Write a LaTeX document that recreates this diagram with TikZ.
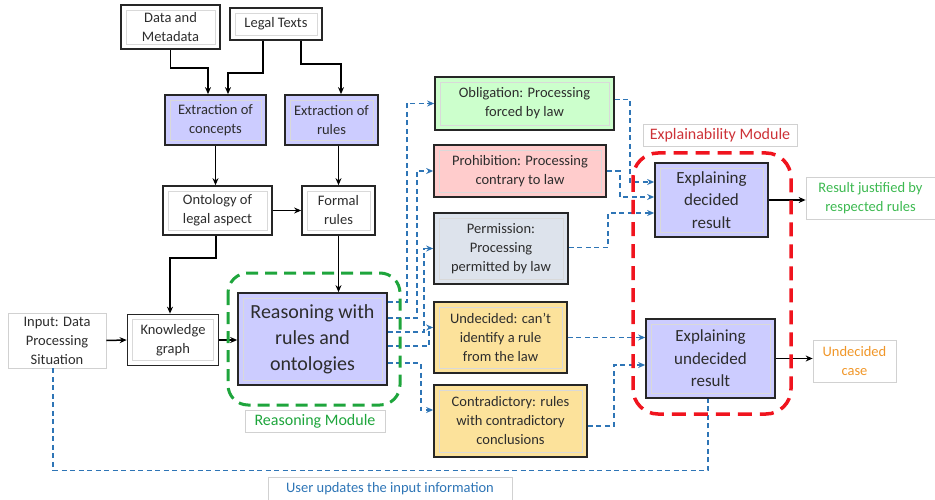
\documentclass[tikz,border=0pt]{standalone}
\usepackage{fontspec}
\setmainfont{Carlito}
\usetikzlibrary{arrows.meta}
\definecolor{lav}{RGB}{204,204,255}
\definecolor{obg}{RGB}{204,255,204}
\definecolor{prr}{RGB}{255,204,204}
\definecolor{peb}{RGB}{221,227,236}
\definecolor{uny}{RGB}{252,226,155}
\definecolor{bl}{RGB}{46,117,182}
\definecolor{gr}{RGB}{30,165,60}
\definecolor{rd}{RGB}{240,20,30}
\definecolor{txt}{RGB}{45,45,45}
\definecolor{gtxt}{RGB}{60,185,80}
\definecolor{otxt}{RGB}{240,150,40}
\definecolor{rtxt}{RGB}{205,50,55}
\newcommand{\fsz}[2]{\fontsize{#1}{#2}\selectfont}
\tikzset{
  box/.style={draw=black!85, line width=1.7pt, align=center, inner sep=0pt, text=txt,
    font=\fsz{14.5}{19},
    path picture={\draw[black!15, line width=0.8pt]
      ([shift={(5pt,-5pt)}]path picture bounding box.north west) rectangle
      ([shift={(-5pt,5pt)}]path picture bounding box.south east);}},
  lbl/.style={draw=black!18, line width=0.7pt, align=center, inner sep=0pt, font=\fsz{14.5}{19}},
  arr/.style={draw=black, line width=1.5pt, -{Stealth[length=7pt,width=6pt]}},
  barr/.style={draw=bl, line width=1.4pt, dash pattern=on 5pt off 3.5pt, -{Stealth[length=7pt,width=6pt]}},
  bdash/.style={draw=bl, line width=1.4pt, dash pattern=on 5pt off 3.5pt},
}
\begin{document}
\begin{tikzpicture}[x=1pt,y=-1pt]
\useasboundingbox (0,0) rectangle (935,500);
% top boxes
\node[box, minimum width=99pt, minimum height=44pt] (dm) at (170.5,27) {Data and\\Metadata};
\node[box, minimum width=92pt, minimum height=32pt] (lt) at (276,24) {Legal Texts};
\node[box, fill=lav, minimum width=101pt, minimum height=50pt] (ec) at (215.5,120) {Extraction of\\concepts};
\node[box, fill=lav, minimum width=93pt, minimum height=50pt] (er) at (331.5,120) {Extraction of\\rules};
\node[box, fill=white, minimum width=109pt, minimum height=49pt] (ont) at (217.5,210.5) {Ontology of\\legal aspect};
\node[box, fill=white, minimum width=73pt, minimum height=49pt] (fr) at (338.5,210.5) {Formal\\rules};
\node[box, fill=white, minimum width=91pt, minimum height=51pt] (kg) at (173,340) {Knowledge\\graph};
\node[lbl, text=txt, minimum width=98pt, minimum height=55pt] (inp) at (57,340.5) {Input: Data\\Processing\\Situation};
\node[box, fill=lav, minimum width=149pt, minimum height=92pt, font=\fsz{20}{26}] (rs) at (312.5,339) {Reasoning with\\rules and\\ontologies};
\node[lbl, text=gr, minimum width=140pt, minimum height=22pt, font=\fsz{16}{19}] (rml) at (315,421) {Reasoning Module};
% classification boxes
\node[box, fill=obg, minimum width=179pt, minimum height=53pt] (ob) at (524.5,103.5) {Obligation: Processing\\forced by law};
\node[box, fill=prr, minimum width=172pt, minimum height=52pt] (pr) at (520,171) {Prohibition: Processing\\contrary to law};
\node[box, fill=peb, minimum width=134pt, minimum height=71pt] (pe) at (501,248.5) {Permission:\\Processing\\permitted by law};
\node[box, fill=uny, minimum width=133pt, minimum height=71pt] (un) at (500.5,337.5) {Undecided: can’t\\identify a rule\\from the law};
\node[box, fill=uny, minimum width=153pt, minimum height=72pt] (co) at (510.5,421) {Contradictory: rules\\with contradictory\\conclusions};
% explainability
\node[lbl, text=rtxt, minimum width=154pt, minimum height=22pt, font=\fsz{16}{19}] (eml) at (720,135) {Explainability Module};
\node[box, fill=lav, minimum width=113pt, minimum height=74pt, font=\fsz{17}{22.5}] (ed) at (711.5,200) {Explaining\\decided\\result};
\node[box, fill=lav, minimum width=129pt, minimum height=79pt, font=\fsz{17}{22.5}] (eu) at (710.5,358.5) {Explaining\\undecided\\result};
\node[lbl, text=gtxt, minimum width=129pt, minimum height=42pt] (rj) at (870.5,198) {Result justified by\\respected rules};
\node[lbl, text=otxt, minimum width=83pt, minimum height=42pt] (uc) at (854.5,361) {Undecided\\case};
\node[lbl, text=bl, minimum width=244pt, minimum height=23pt] (ul) at (390,488.5) {User updates the input information};
% black connectors
\draw[arr] (dm.south) -- ++(0,18) -| ([xshift=-7.5pt]ec.north);
\draw[arr] ([xshift=-13pt]lt.south) -- ++(0,32) -| ([xshift=12.5pt]ec.north);
\draw[arr] ([xshift=25pt]lt.south) -- ++(0,23) -| ([xshift=9.5pt]er.north);
\draw[arr] (ec.south) -- (ec.south |- ont.north);
\draw[arr] ([xshift=7pt]er.south) -- (fr.north);
\draw[arr] (ont.east) -- (fr.west);
\draw[arr] ([xshift=-1.5pt]ont.south) -- ++(0,22) -| ([xshift=-3pt]kg.north);
\draw[arr] (fr.south) -- (fr.south |- rs.north);
\draw[arr] (inp.east) -- (kg.west);
\draw[arr] (kg.east) -- (kg.east -| rs.west);
\draw[arr] (ed.east) -- (ed.east -| rj.west);
\draw[arr] (eu.east) -- (eu.east -| uc.west);
% blue dashed connectors
\draw[barr] ([yshift=37pt]rs.east) -- ++(19,0) |- (ob.west);
\draw[barr] ([yshift=21pt]rs.east) -- ++(29,0) |- (pr.west);
\draw[barr] ([yshift=7pt]rs.east) -- ++(36,0) |- (pe.west);
\draw[barr] ([yshift=-7pt]rs.east) -- ++(41,0) |- ([yshift=10pt]un.west);
\draw[barr] ([yshift=-24pt]rs.east) -- ++(33,0) |- ([yshift=11pt]co.west);
\draw[barr] ([yshift=4pt]ob.east) -- ++(15,0) |- ([yshift=18pt]ed.west);
\draw[barr] (pr.east) -- ++(13,0) |- ([yshift=3pt]ed.west);
\draw[barr] ([yshift=1pt]pe.east) -- ++(39,0) |- ([yshift=-13pt]ed.west);
\draw[barr] (un.east) -- (un.east -| eu.west);
\draw[barr] ([yshift=-5pt]co.east) -- ++(26,0) |- ([yshift=-6.5pt]eu.west);
\draw[bdash] ([xshift=-4pt]inp.south) -- ++(0,102) -| ([xshift=-2.5pt]eu.south);
% module frames
\draw[gr, line width=3pt, dash pattern=on 12pt off 7pt, rounded corners=20pt] (228,273) rectangle (400,405);
\draw[rd, line width=3.5pt, dash pattern=on 14pt off 8pt, rounded corners=25pt] (633,153) rectangle (791,414);
\end{tikzpicture}
\end{document}
